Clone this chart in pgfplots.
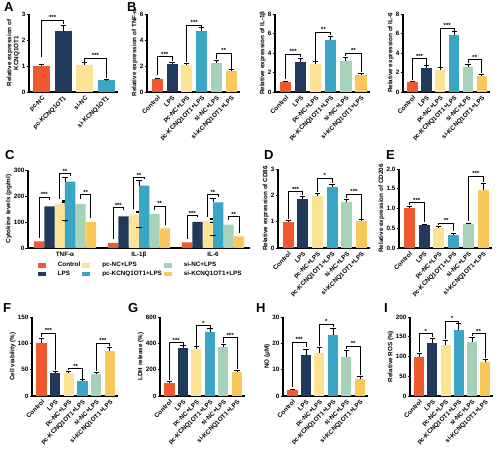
\documentclass[border=0pt]{standalone}
\usepackage{fontspec}
\setmainfont{Liberation Sans}
\usepackage{pgfplots}
\pgfplotsset{compat=1.18}
\definecolor{cA}{RGB}{240,88,45}
\definecolor{cB}{RGB}{33,58,92}
\definecolor{cC}{RGB}{252,228,148}
\definecolor{cD}{RGB}{58,165,196}
\definecolor{cE}{RGB}{165,210,185}
\definecolor{cF}{RGB}{250,200,90}
\newcommand{\fs}{\fontsize{6.3}{7}\selectfont\bfseries}
\pgfplotsset{
 panel/.style={scale only axis, axis x line*=bottom, axis y line*=left,
   axis line style={line width=1.1pt}, ymin=0, clip=false,
   tick align=outside, major tick length=2.5pt,
   every tick/.style={line width=0.9pt, black},
   xtick style={draw=none},
   tick label style={font=\fs}, label style={font=\fs},
   /pgf/number format/assume math mode=true,
   yticklabel style={inner sep=1pt},
   ylabel style={inner sep=1pt},
   anchor=south west},
 six/.style={panel, xmin=-0.7, xmax=5.6, bar width=0.75, xtick={0,...,5},
   xticklabels={Control, LPS, pc-NC+LPS, pc-KCNQ1OT1+LPS, si-NC+LPS, si-KCNQ1OT1+LPS},
   xticklabel style={rotate=45, anchor=north east, inner sep=0.5pt}},
 bstyle/.style={ybar, bar shift=0pt, draw=none,
   error bars/y dir=plus, error bars/y explicit,
   error bars/error bar style={draw=black, line width=0.8pt},
   error bars/error mark options={rotate=90, mark size=2.6pt, line width=0.8pt, draw=black}},
}
\newcommand{\bb}[4]{\addplot[bstyle, fill=#4] coordinates {(#1,#2) +- (0,#3)};}
\newcommand{\sig}[7]{\draw[line width=0.8pt] (axis cs:#1,#5) -- (axis cs:#1,#4) -- (axis cs:#2,#4) -- (axis cs:#2,#6);
  \node[font=\fontsize{6}{6}\selectfont\bfseries, above, inner sep=0.3pt] at (axis cs:#3,#4) {#7};}
\tikzset{plab/.style={anchor=north west, font=\fontsize{13}{13}\selectfont\bfseries, inner sep=0pt}}
\begin{document}
\begin{tikzpicture}
\path[use as bounding box] (0,0) rectangle (500pt,450pt);
% letters
\node[plab] at (4pt,448pt) {A};
\node[plab] at (127pt,448pt) {B};
\node[plab] at (5pt,300pt) {C};
\node[plab] at (264pt,300pt) {D};
\node[plab] at (386pt,300pt) {E};
\node[plab] at (3pt,147pt) {F};
\node[plab] at (128pt,147pt) {G};
\node[plab] at (256pt,147pt) {H};
\node[plab] at (384pt,147pt) {I};
% A
\begin{axis}[panel, at={(29pt,358pt)}, width=89pt, height=78pt, xmin=-0.6, xmax=3.55, bar width=0.8,
  ymax=3, ytick={0,1,2,3}, xtick={0,1,2,3}, xticklabels={pc-NC, pc-KCNQ1OT1, si-NC, si-KCNQ1OT1},
  xticklabel style={rotate=45, anchor=north east, inner sep=0.5pt},
  ylabel={Relative expression of\\KCNQ1OT1}, ylabel style={align=center}]
\bb{0}{1.0}{0.05}{cA}
\bb{1}{2.35}{0.2}{cB}
\bb{2}{1.05}{0.07}{cC}
\bb{3}{0.45}{0.03}{cD}
\sig{0}{1}{0.5}{2.75}{1.35}{2.6}{***}
\sig{2}{3}{2.5}{1.3}{1.17}{0.55}{***}
\end{axis}
% B1
\begin{axis}[six, at={(147pt,358pt)}, width=93pt, height=78pt, ymax=6, ytick={0,2,4,6},
  ylabel={Relative expression of TNF-α}]
\bb{0}{1.0}{0.08}{cA}
\bb{1}{2.15}{0.15}{cB}
\bb{2}{2.05}{0.15}{cC}
\bb{3}{4.7}{0.25}{cD}
\bb{4}{2.25}{0.15}{cE}
\bb{5}{1.6}{0.1}{cF}
\sig{0}{1}{0.5}{2.7}{1.3}{2.4}{***}
\sig{2}{3}{2.5}{5.15}{2.3}{5.0}{***}
\sig{4}{5}{4.5}{3.0}{2.5}{1.8}{**}
\end{axis}
% B2
\begin{axis}[six, at={(275pt,358pt)}, width=95pt, height=78pt, ymax=8, ytick={0,2,4,6,8},
  ylabel={Relative expression of IL-1β}]
\bb{0}{1.0}{0.08}{cA}
\bb{1}{3.1}{0.35}{cB}
\bb{2}{2.9}{0.2}{cC}
\bb{3}{5.3}{0.45}{cD}
\bb{4}{3.2}{0.35}{cE}
\bb{5}{1.7}{0.2}{cF}
\sig{0}{1}{0.5}{3.9}{1.3}{3.55}{***}
\sig{2}{3}{2.5}{6.15}{3.2}{5.85}{**}
\sig{4}{5}{4.5}{4.0}{3.65}{2.0}{**}
\end{axis}
% B3
\begin{axis}[six, at={(403pt,358pt)}, width=87pt, height=78pt, ymax=8, ytick={0,2,4,6,8},
  ylabel={Relative expression of IL-6}]
\bb{0}{1.0}{0.1}{cA}
\bb{1}{2.5}{0.2}{cB}
\bb{2}{2.3}{0.2}{cC}
\bb{3}{5.8}{0.4}{cD}
\bb{4}{2.6}{0.25}{cE}
\bb{5}{1.6}{0.2}{cF}
\sig{0}{1}{0.5}{3.4}{1.25}{2.8}{***}
\sig{2}{3}{2.5}{6.55}{2.6}{6.3}{***}
\sig{4}{5}{4.5}{3.3}{2.95}{1.9}{**}
\end{axis}
% C
\begin{axis}[panel, at={(28pt,202pt)}, width=222pt, height=78pt, xmin=-0.5, xmax=2.5,
  bar width=0.14, ymax=300, ytick={0,100,200,300}, xtick={0,1,2},
  xticklabels={TNF-α, IL-1β, IL-6}, xticklabel style={inner sep=1.5pt},
  ylabel={Cytokine levels (pg/ml)},
  legend columns=3,
  legend style={draw=none, fill=none, at={(0.03,-0.13)}, anchor=north west, font=\fs,
    /tikz/every odd column/.append style={column sep=10pt}, row sep=-1.5pt},
  legend cell align=left,
  legend image code/.code={\fill[#1] (0pt,-2.2pt) rectangle (8pt,2.2pt);}]
\addplot[bstyle, fill=cA, bar shift=-0.35] coordinates {(0,25) +- (0,3) (1,20) +- (0,3) (2,22) +- (0,3)};
\addplot[bstyle, fill=cC, bar shift=-0.07] coordinates {(0,170) +- (0,10) (1,128) +- (0,12) (2,105) +- (0,8)};
\addplot[bstyle, fill=cE, bar shift=0.21] coordinates {(0,170) +- (0,12) (1,130) +- (0,10) (2,90) +- (0,10)};
\addplot[bstyle, fill=cB, bar shift=-0.21] coordinates {(0,160) +- (0,15) (1,122) +- (0,15) (2,100) +- (0,10)};
\addplot[bstyle, fill=cD, bar shift=0.07] coordinates {(0,255) +- (0,15) (1,240) +- (0,20) (2,175) +- (0,15)};
\addplot[bstyle, fill=cF, bar shift=0.35] coordinates {(0,100) +- (0,8) (1,75) +- (0,5) (2,45) +- (0,5)};
\legend{Control, pc-NC+LPS, si-NC+LPS, LPS, pc-KCNQ1OT1+LPS, si-KCNQ1OT1+LPS}
\sig{-0.35}{-0.21}{-0.28}{195}{40}{185}{***}
\sig{-0.07}{0.07}{0}{285}{190}{278}{**}
\sig{0.21}{0.35}{0.28}{205}{190}{115}{**}
\sig{0.65}{0.79}{0.72}{155}{35}{145}{***}
\sig{0.93}{1.07}{1}{270}{150}{265}{**}
\sig{1.21}{1.35}{1.28}{160}{148}{88}{**}
\sig{1.65}{1.79}{1.72}{125}{35}{118}{***}
\sig{1.93}{2.07}{2}{205}{120}{196}{**}
\sig{2.21}{2.35}{2.28}{120}{108}{58}{**}
\end{axis}
% D
\begin{axis}[six, at={(278pt,202pt)}, width=92pt, height=79pt, ymax=3, ytick={0,1,2,3},
  ylabel={Relative expression of CD86}]
\bb{0}{1.0}{0.05}{cA}
\bb{1}{1.85}{0.1}{cB}
\bb{2}{1.97}{0.1}{cC}
\bb{3}{2.3}{0.12}{cD}
\bb{4}{1.75}{0.1}{cE}
\bb{5}{1.02}{0.06}{cF}
\sig{0}{1}{0.5}{2.14}{1.1}{2.0}{***}
\sig{2}{3}{2.5}{2.66}{2.12}{2.47}{*}
\sig{4}{5}{4.5}{2.05}{1.9}{1.12}{***}
\end{axis}
% E
\begin{axis}[six, at={(399pt,202pt)}, width=93pt, height=79pt, ymax=2, ytick={0,0.5,1,1.5,2},
  yticklabel style={/pgf/number format/.cd, fixed, fixed zerofill, precision=1},
  ylabel={Relative expression of CD206}]
\bb{0}{1.0}{0.05}{cA}
\bb{1}{0.57}{0.04}{cB}
\bb{2}{0.5}{0.05}{cC}
\bb{3}{0.33}{0.05}{cD}
\bb{4}{0.6}{0.03}{cE}
\bb{5}{1.48}{0.15}{cF}
\sig{0}{1}{0.5}{1.15}{1.08}{0.65}{***}
\sig{2}{3}{2.5}{0.63}{0.58}{0.42}{**}
\sig{4}{5}{4.5}{1.82}{0.68}{1.68}{***}
\end{axis}
% F
\begin{axis}[six, at={(32pt,54pt)}, width=86pt, height=79pt, ymax=150, ytick={0,50,100,150},
  ylabel={Cell viability (\%)}]
\bb{0}{100}{9}{cA}
\bb{1}{43}{4}{cB}
\bb{2}{43}{4}{cC}
\bb{3}{28}{3}{cD}
\bb{4}{41}{4}{cE}
\bb{5}{86}{6}{cF}
\sig{0}{1}{0.5}{119}{112}{50}{***}
\sig{2}{3}{2.5}{52}{49}{33}{**}
\sig{4}{5}{4.5}{100}{48}{95}{***}
\end{axis}
% G
\begin{axis}[six, at={(160pt,54pt)}, width=85pt, height=79pt, ymax=600, ytick={0,200,400,600},
  ylabel={LDH release (\%)}]
\bb{0}{100}{10}{cA}
\bb{1}{365}{18}{cB}
\bb{2}{360}{15}{cC}
\bb{3}{485}{25}{cD}
\bb{4}{370}{25}{cE}
\bb{5}{185}{12}{cF}
\sig{0}{1}{0.5}{405}{118}{390}{***}
\sig{2}{3}{2.5}{534}{382}{515}{*}
\sig{4}{5}{4.5}{443}{400}{202}{***}
\end{axis}
% H
\begin{axis}[six, at={(283pt,54pt)}, width=85pt, height=79pt, ymax=30, ytick={0,10,20,30},
  ylabel={NO (μM)}]
\bb{0}{2.2}{0.4}{cA}
\bb{1}{15.5}{2.2}{cB}
\bb{2}{16.3}{2}{cC}
\bb{3}{23.3}{2.5}{cD}
\bb{4}{14.8}{2.5}{cE}
\bb{5}{6.5}{1}{cF}
\sig{0}{1}{0.5}{20.4}{3.5}{18.5}{***}
\sig{2}{3}{2.5}{27.3}{19}{26.3}{*}
\sig{4}{5}{4.5}{19}{18}{8}{**}
\end{axis}
% I
\begin{axis}[six, at={(410pt,54pt)}, width=83pt, height=79pt, ymax=200, ytick={0,50,100,150,200},
  ylabel={Relative ROS (\%)}]
\bb{0}{100}{9}{cA}
\bb{1}{135}{12}{cB}
\bb{2}{128}{14}{cC}
\bb{3}{168}{15}{cD}
\bb{4}{137}{12}{cE}
\bb{5}{86}{7}{cF}
\sig{0}{1}{0.5}{158}{112}{150}{*}
\sig{2}{3}{2.5}{190}{145}{186}{*}
\sig{4}{5}{4.5}{158}{152}{96}{**}
\end{axis}
\end{tikzpicture}
\end{document}
